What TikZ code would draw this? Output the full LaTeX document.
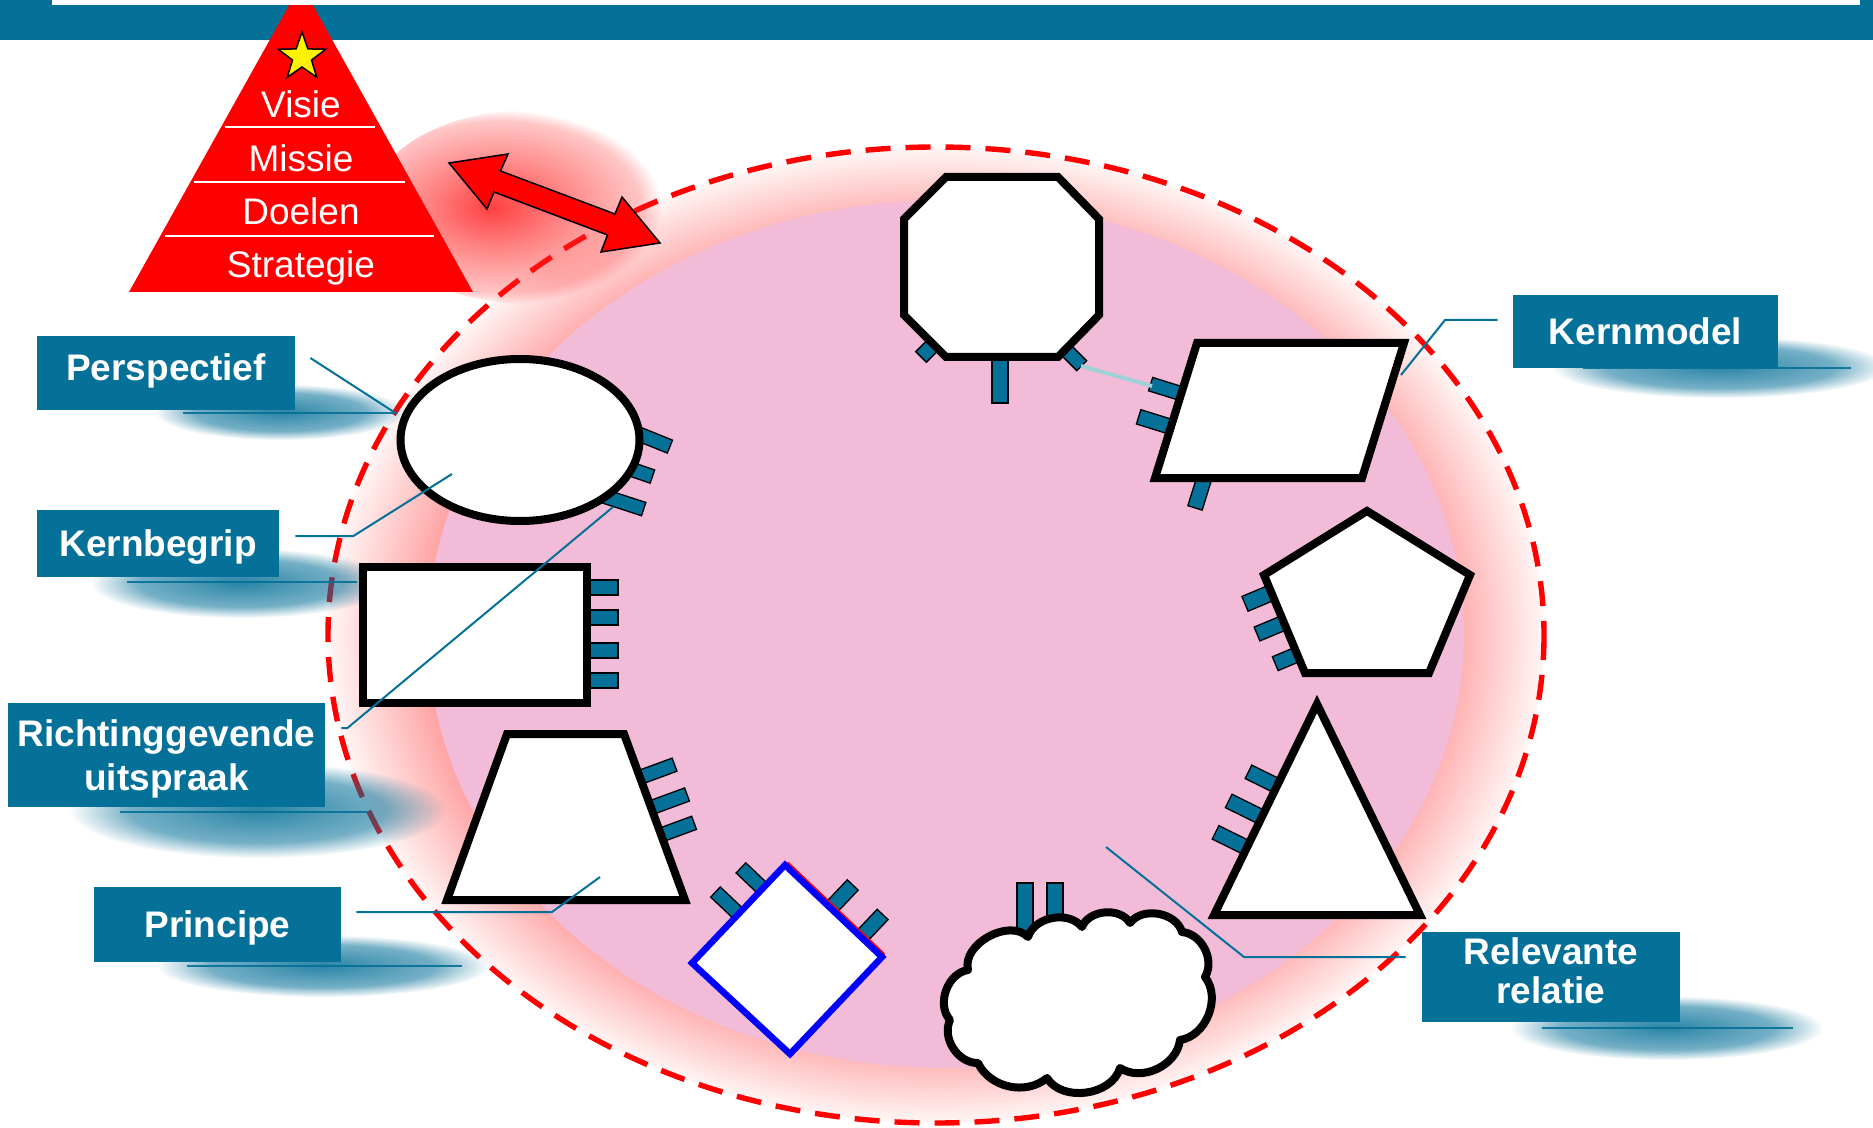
\documentclass[tikz,border=0pt]{standalone}
\usepackage{fontspec}
\setmainfont{Liberation Sans}
\usetikzlibrary{fadings,calc}
\definecolor{labelblue}{RGB}{5,112,152}
\definecolor{pinkc}{RGB}{242,187,215}
\definecolor{salmonc}{RGB}{255,160,160}
\definecolor{ringedge}{RGB}{255,246,246}
\definecolor{lightconn}{RGB}{160,208,216}
\pgfdeclareradialshading{ringshade}{\pgfpointorigin}{color(0bp)=(salmonc); color(20.8bp)=(salmonc); color(25bp)=(ringedge); color(50bp)=(ringedge)}
\pgfdeclareradialshading{glowgray}{\pgfpoint{-3bp}{0bp}}{color(0bp)=(black!12); color(5bp)=(black!42); color(11bp)=(black!74); color(12.5bp)=(black!100); color(50bp)=(black!100)}
\pgfdeclareradialshading{shgray}{\pgfpointorigin}{color(0bp)=(black!15); color(8.5bp)=(black!45); color(12.5bp)=(black!100); color(50bp)=(black!100)}
\begin{tikzfadingfrompicture}[name=glowfade]
  \shade[shading=glowgray] (-50bp,-50bp) rectangle (50bp,50bp);
\end{tikzfadingfrompicture}
\begin{tikzfadingfrompicture}[name=shfade]
  \shade[shading=shgray] (-50bp,-50bp) rectangle (50bp,50bp);
\end{tikzfadingfrompicture}
\newcommand{\lblfont}{\fontsize{18.5pt}{21.7pt}\selectfont\bfseries}
\newcommand{\pyrfont}{\fontsize{18.5pt}{21pt}\selectfont}
% tab: centre x, centre y, direction (pixel, clockwise), visible length, width
\newcommand{\tabr}[5]{\draw[tabstyle,shift={(#1,#2)},rotate={-1*(#3)}] (-#4/2-8,-#5/2) rectangle (#4/2,#5/2);}
\newcommand{\lblshadow}[7]{%
  \fill[labelblue, path fading=shfade] (#1,#2) ellipse (#3 and #4);
  \draw[labelblue, line width=1.2pt, opacity=0.9] (#5,#7) -- (#6,#7);}
\begin{document}
\begin{tikzpicture}[x=0.5pt,y=-0.5pt,
  shp/.style={draw=black, fill=white, line width=4pt},
  tabstyle/.style={fill=labelblue, draw=black, line width=0.65pt},
  conn/.style={draw=labelblue, line width=1pt},
  lbl/.style={fill=labelblue, text=white, inner sep=0pt, font=\lblfont, align=center},
  lbltext/.style={text=white, inner sep=0pt, font=\lblfont, anchor=base},
  pyrtext/.style={text=white, font=\pyrfont, inner sep=0pt, anchor=base}]
\useasboundingbox (0,0) rectangle (1873,1128);
\clip (0,0) rectangle (1873,1128);
\fill[white] (0,0) rectangle (1873,1128);

% big ring and pink region
\shade[shading=ringshade] (936,635) ellipse (608 and 488);
\fill[pinkc] (946,634) ellipse (518 and 434);
\draw[red, line width=2.7pt, dash pattern=on 12.5pt off 7.5pt] (936,635) ellipse (608 and 488);
% glow behind the double arrow
\fill[red!85!white, path fading=glowfade] (530,207) ellipse (160 and 97);

% label shadows
\lblshadow{280}{412}{125}{28}{183}{393}{413}
\lblshadow{241}{583}{150}{35}{127}{357}{582}
\lblshadow{258}{810}{188}{48}{120}{367}{812}
\lblshadow{323}{966}{166}{31}{187}{462}{966}
\lblshadow{1720}{367}{168}{31}{1583}{1851}{368}
\lblshadow{1667}{1028}{156}{32}{1542}{1793}{1028}

% tabs
\tabr{1000}{382}{90}{42}{16}
\tabr{926}{352}{135}{14}{15}
\tabr{1075}{359}{45}{19}{14}
\tabr{1163}{388}{197.3}{26}{14}
\tabr{1152}{421}{197.3}{28}{15}
\tabr{1199}{495}{107.3}{27}{15}
\tabr{656}{441}{22}{30}{14}
\tabr{642}{473}{19}{22}{14}
\tabr{628}{504}{18}{33}{14}
\tabr{604.5}{587.5}{0}{27}{15}
\tabr{604.5}{617.5}{0}{27}{15}
\tabr{604.5}{650.5}{0}{27}{15}
\tabr{604.5}{680.5}{0}{27}{15}
\tabr{660}{770}{-20.2}{31}{14}
\tabr{672}{800}{-20.2}{32}{14}
\tabr{680}{828}{-20.2}{30}{14}
\tabr{1256.5}{599}{157.3}{25}{16}
\tabr{1269}{629}{157.3}{26}{15}
\tabr{1284}{660}{157.3}{19}{15}
\tabr{1261}{778}{206.4}{28}{15}
\tabr{1243}{808}{206.4}{32}{15}
\tabr{1229}{839}{206.4}{30}{15}
\tabr{750}{876.5}{223.5}{25}{14}
\tabr{726}{902}{223.5}{29}{14}
\tabr{843.8}{894.4}{-46.5}{26}{15}
\tabr{874}{923.5}{-46.5}{25}{15}
\draw[tabstyle] (1017,883) rectangle (1033,945);
\draw[tabstyle] (1047,883) rectangle (1063,935);

% shapes
\draw[shp] (946,177) -- (1058,177) -- (1099,219) -- (1099,315) -- (1058,357) -- (946,357) -- (904,315) -- (904,219) -- cycle;
\draw[shp] (1197,343) -- (1404,343) -- (1362,478) -- (1155,478) -- cycle;
\draw[shp] (520,440) ellipse (119.5 and 81);
\draw[shp] (363,567) rectangle (587,703);
\draw[shp] (507,734) -- (624,734) -- (685,900) -- (447,900) -- cycle;
\draw[shp] (1367,511) -- (1470,575) -- (1429,673) -- (1305,673) -- (1264,575) -- cycle;
\draw[shp] (1317,704) -- (1420,915) -- (1214,915) -- cycle;
\draw[red, line width=0.8pt] (787.8,862.2) -- (884.8,954.2);
\draw[draw=blue, fill=white, line width=3.25pt] (785,865) -- (882,957) -- (790,1054) -- (692,963) -- cycle;
\draw[shp, line join=round] (968,970) to[bend left=75] (1028,937) to[bend left=62] (1082,927)
  to[bend left=64] (1130,923) to[bend left=64] (1182,932) to[bend left=58] (1205,977)
  to[bend left=60] (1180,1040) to[bend left=58] (1120,1068) to[bend left=66] (1047,1078)
  to[bend left=52] (978,1063) to[bend left=58] (950,1020) to[bend left=62] (968,970) -- cycle;

% light relation between octagon and parallelogram
\coordinate (octTab) at (1081,366);
\coordinate (parTab) at (1152,386);
\draw[lightconn, line width=2pt] (octTab) -- (parTab);

% label boxes
\node[lbl, minimum width=129pt, minimum height=37pt, text height=13.2pt, text depth=5.3pt] (persp) at (166,373) {Perspectief};
\node[lbl, minimum width=121pt, minimum height=33.5pt, text height=13.2pt, text depth=0pt] (kernb) at (158,543.5) {Kernbegrip};
\node[lbl, minimum width=158.5pt, minimum height=52pt] (richt) at (166.5,755) {};
\node[lbltext] (richt1) at (166.5,746.7) {Richtinggevende};
\node[lbltext] (richt2) at (166.5,790) {uitspraak};
\node[lbl, minimum width=123.5pt, minimum height=37.5pt, text height=13.2pt, text depth=0pt] (princ) at (217.5,924.5) {Principe};
\node[lbl, minimum width=132.5pt, minimum height=36.5pt, text height=13.2pt, text depth=0pt] (kmod) at (1645.5,331.5) {Kernmodel};
\node[lbl, minimum width=129pt, minimum height=45pt] (relev) at (1551,977) {};
\node[lbltext] (relev1) at (1551,964) {Relevante};
\node[lbltext] (relev2) at (1551,1003.3) {relatie};

% connectors
\coordinate (ellEdge) at (397,414);
\coordinate (ellIn) at (452,474);
\coordinate (ellTab) at (613,507);
\coordinate (trapIn) at (600,877);
\coordinate (parEdge) at (1401,375);
\coordinate (pinkIn) at (1106,847);
\draw[conn] ([shift={(15,-15)}]persp.east) -- (ellEdge);
\draw[conn] ([shift={(16,-7.5)}]kernb.east) -- ++(58,0) -- (ellIn);
\draw[conn] ([shift={(16,-27)}]richt.east) -- ++(6,0) -- (ellTab);
\draw[conn] ([shift={(15,-12.5)}]princ.east) -- (552,912) -- (trapIn);
\draw[conn] ([shift={(-15,-11.5)}]kmod.west) -- (1445,320) -- (parEdge);
\draw[conn] ([shift={(-16,-20)}]relev.west) -- (1244,957) -- (pinkIn);

% top bar
\fill[labelblue] (0,0) rectangle (1873,40);

% pyramid
\fill[red] (301,-16) -- (473,292) -- (129,292) -- cycle;
\draw[white, line width=1.25pt] (225,127) -- (375,127);
\draw[white, line width=1.25pt] (194,182) -- (405,182);
\draw[white, line width=1.25pt] (165,236) -- (434,236);
\node[pyrtext] (visie) at (301,118) {Visie};
\node[pyrtext] (missie) at (301,171.5) {Missie};
\node[pyrtext] (doelen) at (301,225) {Doelen};
\node[pyrtext] (strat) at (301,278) {Strategie};
\draw[fill=yellow, draw=black, line width=0.75pt] (302,57) +(-90:25) -- +(-54:10) -- +(-18:25) -- +(18:10) -- +(54:25) -- +(90:10) -- +(126:25) -- +(162:10) -- +(198:25) -- +(234:10) -- cycle;

% white strip at the top
\fill[white] (52,0) rectangle (1860,5);

% double arrow
\draw[fill=red, draw=black, line width=0.75pt] (449,163) -- (508,154) -- (500.5,171) -- (615,214) -- (622,197) -- (660,243) -- (601,252) -- (607.5,235) -- (494,192) -- (487,209) -- cycle;
\end{tikzpicture}
\end{document}
